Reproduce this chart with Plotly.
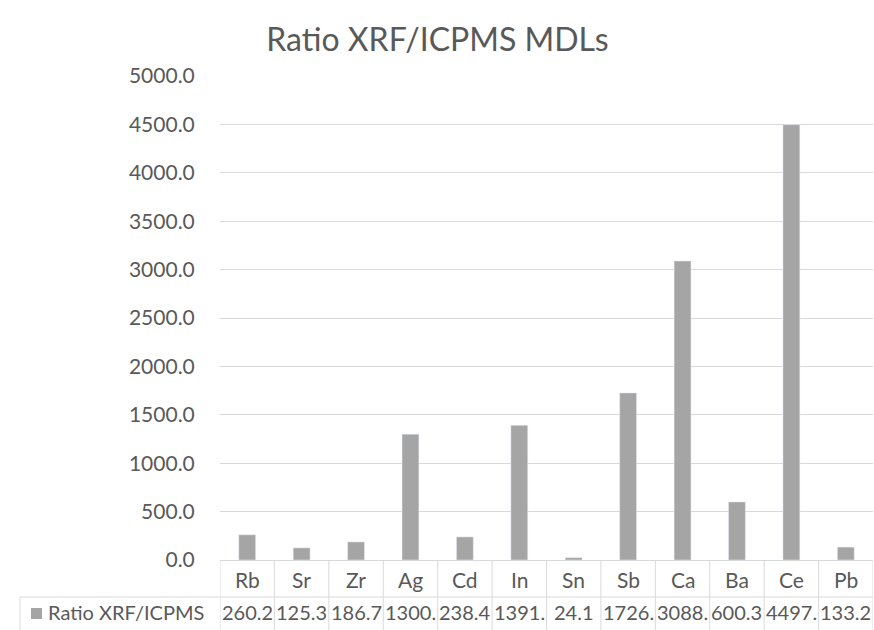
import plotly.graph_objects as go

categories = ["Rb", "Sr", "Zr", "Ag", "Cd", "In", "Sn", "Sb", "Ca", "Ba", "Ce", "Pb"]
values = [260.2, 125.3, 186.7, 1300.2, 238.4, 1391.0, 24.1, 1726.0, 3088.0, 600.3, 4497.0, 133.2]
series_name = "Ratio XRF/ICPMS"
title_text = "Ratio XRF/ICPMS MDLs"

W, H = 874, 630
ML, MR, MT, MB = 220, 1, 76, 70
PH = H - MT - MB
PW = W - ML - MR

def py(p):  # pixel y -> paper y
    return (H - MB - p) / PH

def px(p):  # pixel x -> paper x
    return (p - ML) / PW

FONT = "Lato"
TXT = "#595959"
GRID = "#d9d9d9"
BAR = "#a5a5a5"
FS = 21
FS_VAL = 20

fig = go.Figure(go.Bar(x=list(range(len(categories))), y=values, marker_color=BAR,
                       name=series_name, showlegend=False, hoverinfo="skip"))

shapes = []
annotations = []
n = len(categories)
# table borders
shapes.append(dict(type="line", xref="paper", yref="paper", x0=px(20), x1=1, y0=py(597), y1=py(597),
                   line=dict(color=GRID, width=1)))
shapes.append(dict(type="line", xref="paper", yref="paper", x0=px(20), x1=px(20), y0=py(597), y1=py(640),
                   line=dict(color=GRID, width=1)))
for i in range(n + 1):
    shapes.append(dict(type="line", xref="x", yref="paper", x0=i - 0.5, x1=i - 0.5, y0=0, y1=py(640),
                       line=dict(color=GRID, width=1)))
for i, (c, v) in enumerate(zip(categories, values)):
    annotations.append(dict(x=i, y=py(579), xref="x", yref="paper", text=c, showarrow=False,
                            font=dict(family=FONT, size=FS, color=TXT), xanchor="center", yanchor="middle"))
    annotations.append(dict(x=i, y=py(612), xref="x", yref="paper", text=f"{v:.1f}"[:5], showarrow=False,
                            font=dict(family=FONT, size=FS_VAL, color=TXT), xanchor="center", yanchor="middle",
                            borderpad=0))
# legend key
shapes.append(dict(type="rect", xref="paper", yref="paper", x0=px(31), x1=px(42), y0=py(608), y1=py(619),
                   fillcolor=BAR, line=dict(width=0)))
annotations.append(dict(x=px(47), y=py(612), xref="paper", yref="paper", text=series_name, showarrow=False,
                        font=dict(family=FONT, size=FS_VAL, color=TXT), xanchor="left", yanchor="middle",
                        borderpad=0))

fig.update_layout(
    width=W, height=H,
    margin=dict(l=ML, r=MR, t=MT, b=MB),
    paper_bgcolor="white", plot_bgcolor="white",
    title=dict(text=title_text, x=437.5 / W, xanchor="center", y=1 - 40 / H, yanchor="middle",
               font=dict(family=FONT, size=32, color=TXT)),
    bargap=0.69,
    xaxis=dict(range=[-0.5, n - 0.5], showticklabels=False, showgrid=False, zeroline=False,
               showline=True, linecolor=GRID, ticks=""),
    yaxis=dict(range=[0, 5000], dtick=500, tickformat=".1f", showgrid=True, gridcolor=GRID,
               zeroline=False, showline=False, ticks="outside", tickcolor="rgba(0,0,0,0)", ticklen=20,
               tickfont=dict(family=FONT, size=FS, color=TXT)),
    shapes=shapes, annotations=annotations,
)
fig.write_html("out.html", config={"displayModeBar": False},
               post_script="document.body.style.margin='0';document.body.style.overflow='hidden';")
